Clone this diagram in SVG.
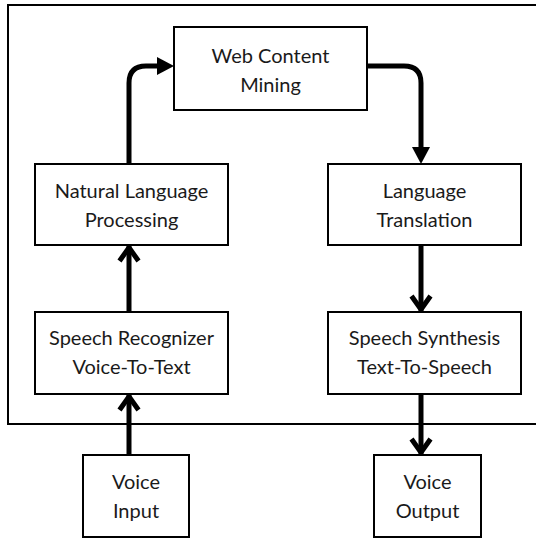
<svg xmlns="http://www.w3.org/2000/svg" width="536" height="539" viewBox="0 0 536 539">
  <style>
    .box { fill: #ffffff; stroke: #000000; stroke-width: 2; }
    .lbl { font-family: Lato, "Liberation Sans", sans-serif; font-size: 20px; fill: #1a1a1a; text-anchor: middle; }
    .conn { fill: none; stroke: #000000; stroke-width: 5; }
    .frame { fill: none; stroke: #000000; stroke-width: 2; }
  </style>
  <defs>
    <marker id="tri" markerUnits="userSpaceOnUse" viewBox="0 0 18 18" refX="6" refY="9" markerWidth="18" markerHeight="18" orient="auto">
      <path d="M0,0 L17,9 L0,18 z" fill="#000000"/>
    </marker>
    <marker id="open" markerUnits="userSpaceOnUse" viewBox="-20 -14 24 28" refX="0" refY="0" markerWidth="24" markerHeight="28" orient="auto">
      <path d="M-15,-9.5 L-1.5,0 L-15,9.5" fill="none" stroke="#000000" stroke-width="5" stroke-linejoin="miter"/>
    </marker>
  </defs>

  <path class="frame" d="M537,5 H8 V424 H537"/>

  <g id="connectors">
    <path class="conn" d="M129,164 V83 Q129,66 146,66 H163" marker-end="url(#tri)"/>
    <path class="conn" d="M367,66 H404 Q421,66 421,83 V153" marker-end="url(#tri)"/>
    <path class="conn" d="M129,312 V246" marker-end="url(#open)"/>
    <path class="conn" d="M421,245 V311" marker-end="url(#open)"/>
    <path class="conn" d="M129,455 V395" marker-end="url(#open)"/>
    <path class="conn" d="M421,394 V454" marker-end="url(#open)"/>
  </g>

  <g id="web-content-mining">
    <rect class="box" x="174" y="27" width="193" height="83"/>
    <text class="lbl" x="270.5" y="63">Web Content</text>
    <text class="lbl" x="270.5" y="92">Mining</text>
  </g>
  <g id="natural-language-processing">
    <rect class="box" x="35" y="164" width="193" height="81"/>
    <text class="lbl" x="131.5" y="198">Natural Language</text>
    <text class="lbl" x="131.5" y="227">Processing</text>
  </g>
  <g id="language-translation">
    <rect class="box" x="328" y="164" width="193" height="81"/>
    <text class="lbl" x="424.5" y="198">Language</text>
    <text class="lbl" x="424.5" y="227">Translation</text>
  </g>
  <g id="speech-recognizer">
    <rect class="box" x="35" y="312" width="193" height="82"/>
    <text class="lbl" x="131.5" y="345">Speech Recognizer</text>
    <text class="lbl" x="131.5" y="374">Voice-To-Text</text>
  </g>
  <g id="speech-synthesis">
    <rect class="box" x="328" y="312" width="193" height="82"/>
    <text class="lbl" x="424.5" y="345">Speech Synthesis</text>
    <text class="lbl" x="424.5" y="374">Text-To-Speech</text>
  </g>
  <g id="voice-input">
    <rect class="box" x="83" y="455" width="106" height="82"/>
    <text class="lbl" x="136" y="489">Voice</text>
    <text class="lbl" x="136" y="518">Input</text>
  </g>
  <g id="voice-output">
    <rect class="box" x="374" y="455" width="107" height="82"/>
    <text class="lbl" x="427.5" y="489">Voice</text>
    <text class="lbl" x="427.5" y="518">Output</text>
  </g>
</svg>
